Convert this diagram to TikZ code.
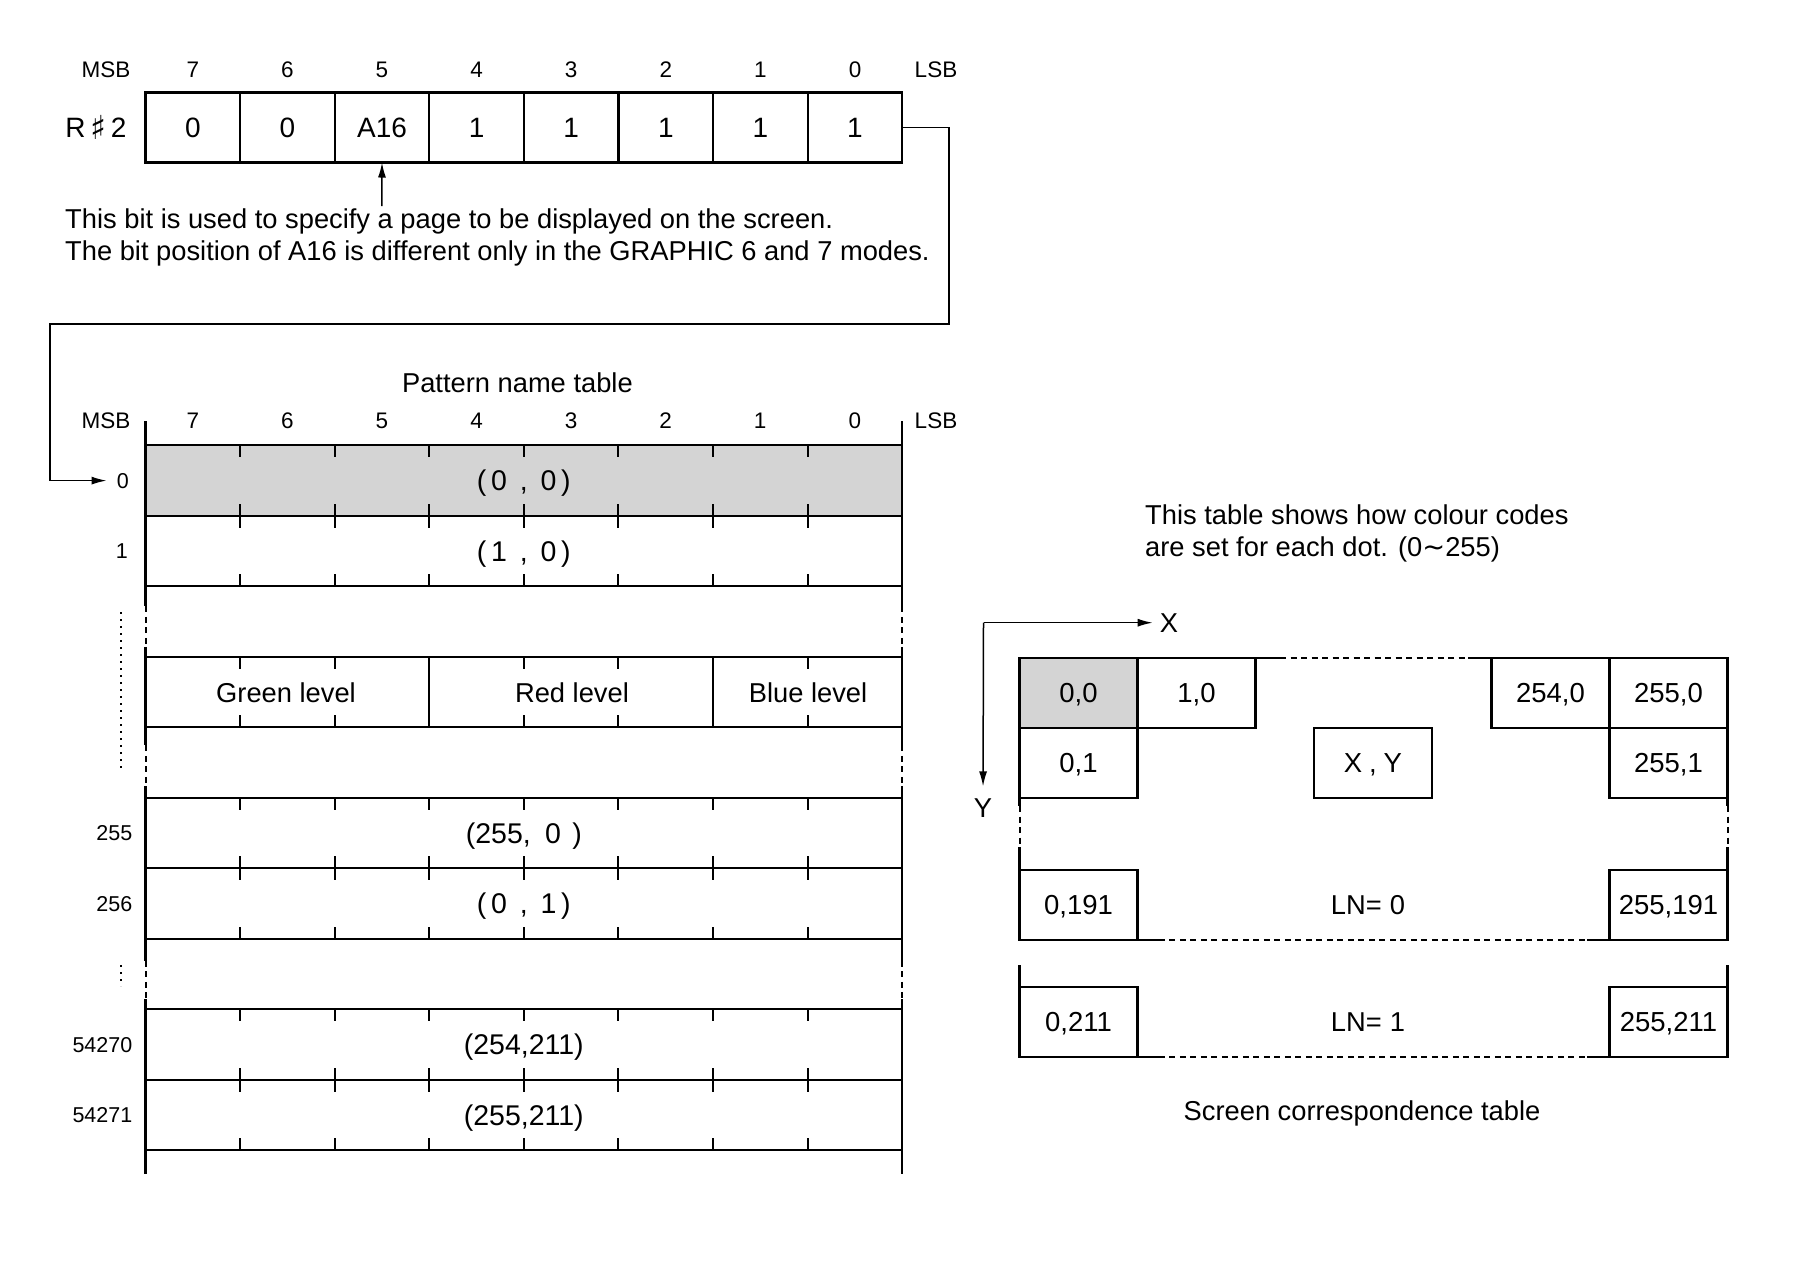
\documentclass[tikz,border=0pt]{standalone}
\usepackage{fontspec}
\setmainfont{Liberation Sans}
\newfontfamily\djv{DejaVu Sans}
\usetikzlibrary{arrows.meta}
\newcommand\gp{\hspace{0.45em}}
\tikzset{
  frame/.style={line width=2.2pt},
  tick/.style={line width=2pt},
  dashline/.style={line width=2pt, dash pattern=on 6pt off 4.5pt},
  conn/.style={line width=1.5pt},
  tip/.style={-{Latex[length=15pt,width=8pt]}},
  hdr/.style={inner sep=0pt, font=\fontsize{22.5}{26}\selectfont},
  big/.style={inner sep=0pt, font=\fontsize{28}{32}\selectfont},
  txt/.style={inner sep=0pt, font=\fontsize{27.3}{32}\selectfont},
  val/.style={inner sep=0pt, anchor=base, font=\fontsize{28.5}{32}\selectfont},
  rowlab/.style={inner sep=0pt, anchor=east, font=\fontsize{21.5}{24}\selectfont},
  regcell/.style={draw, frame, outer sep=0pt, minimum width=94.6pt, minimum height=70pt, inner sep=0pt, text depth=0pt, anchor=north west, font=\fontsize{28}{32}\selectfont},
  scell/.style={draw, frame, outer sep=0pt, minimum width=118pt, minimum height=70pt, inner sep=0pt, text depth=0pt, anchor=north west, font=\fontsize{27.5}{32}\selectfont},
  shade/.style={fill=black!17},
}
\begin{document}
\begin{tikzpicture}[x=1pt,y=-1pt]
\useasboundingbox (0,0) rectangle (1795,1275);

% ---------------- register R#2 ----------------
\foreach \t [count=\i from 0] in {0,0,A16,1,1,1,1,1}{
  \pgfmathtruncatemacro\bitno{7-\i}
  \node[regcell] (b\bitno) at ({145.5+\i*94.6},92.5) {\t};
  \node[hdr] (h\bitno) at ({145.5+(\i+0.5)*94.6},69.5) {\bitno};
}
\node[hdr] (msbA) at (106,69.5) {MSB};
\node[hdr] (lsbA) at (936,69.5) {LSB};
\node[big, anchor=base] (reg) at (96,137.3) {R\,\raisebox{-2.5pt}{\djv\fontsize{33}{33}\selectfont ♯}\,2};

\coordinate (notetop) at (381.9,206);
\draw[conn,tip] (notetop) -- (b5.south);
\node[txt, anchor=base west] (note1) at (65,228.3) {This bit is used to specify a page to be displayed on the screen.};
\node[txt, anchor=base west] (note2) at (65,260) {The bit position of A16 is different only in the GRAPHIC 6 and 7 modes.};

% ---------------- pattern name table ----------------
\def\L{145.5}
\def\R{902.1}
\def\cw{94.575}
\def\T{445.3}
\def\h{70.5}
\node[txt, anchor=base] (ptitle) at (517.4,392.5) {Pattern name table};
\node[hdr] (msbB) at (106,421) {MSB};
\node[hdr] (lsbB) at (936,421) {LSB};
\foreach \i in {0,...,7}{
  \pgfmathtruncatemacro\bitno{7-\i}
  \node[hdr] (p\bitno) at ({\L+(\i+0.5)*\cw},421) {\bitno};
}
\fill[shade] (\L,\T) rectangle (\R,{\T+\h});
\foreach \k in {0,...,10}{
  \draw[frame] (\L,{\T+\k*\h}) -- (\R,{\T+\k*\h});
}
% ticks for ordinary rows
\foreach \r in {0,1,5,6,8,9}{
  \foreach \k in {1,...,7}{
    \draw[tick] ({\L+\k*\cw},{\T+\r*\h}) -- ++(0,12);
    \draw[tick] ({\L+\k*\cw},{\T+(\r+1)*\h}) -- ++(0,-12);
  }
}
% colour row
\foreach \k in {1,2,4,5,7}{
  \draw[tick] ({\L+\k*\cw},{\T+3*\h}) -- ++(0,12);
  \draw[tick] ({\L+\k*\cw},{\T+4*\h}) -- ++(0,-12);
}
\foreach \k in {3,6}{
  \draw[frame] ({\L+\k*\cw},{\T+3*\h}) -- ({\L+\k*\cw},{\T+4*\h});
}
% side verticals
\foreach \x in {\L,\R}{
  \draw[frame] (\x,421) -- (\x,{\T+2*\h+20});
  \draw[dashline] (\x,{\T+2*\h+20}) -- (\x,{\T+3*\h-10});
  \draw[frame] (\x,{\T+3*\h-10}) -- (\x,{\T+4*\h+18});
  \draw[dashline] (\x,{\T+4*\h+18}) -- (\x,{\T+5*\h-12});
  \draw[frame] (\x,{\T+5*\h-12}) -- (\x,{\T+7*\h+22});
  \draw[dashline] (\x,{\T+7*\h+22}) -- (\x,{\T+8*\h-10});
  \draw[frame] (\x,{\T+8*\h-10}) -- (\x,1174);
}
% row contents
\node[val] (v0) at (523.8,490.8) {(\,0\gp,\gp0\,)};
\node[val] (v1) at (523.8,561.3) {(\,1\gp,\gp0\,)};
\node[txt] (green) at (286,693) {Green level};
\node[txt] (red) at (572,693) {Red level};
\node[txt] (blue) at (808,693) {Blue level};
\node[val] (v255) at (523.8,843.3) {(255,\hspace{0.5em}0\hspace{0.4em})};
\node[val] (v256) at (523.8,913.8) {(\,0\gp,\gp1\,)};
\node[val] (v54270) at (523.8,1054.8) {(254,211)};
\node[val] (v54271) at (523.8,1125.3) {(255,211)};
% row labels
\node[rowlab] (l0) at (129,480.6) {0};
\node[rowlab] (l1) at (128,551.1) {1};
\node[rowlab] (l255) at (132.5,833.1) {255};
\node[rowlab] (l256) at (132.5,903.6) {256};
\node[rowlab] (l54270) at (132.5,1044.6) {54270};
\node[rowlab] (l54271) at (132.5,1115.1) {54271};
\draw[line width=2pt, dash pattern=on 2pt off 5pt] (121,612) -- (121,772);
\draw[line width=2pt, dash pattern=on 2pt off 5pt] (121,965) -- (121,986);

% connector from register to table
\draw[conn,tip] (b0.east) -- (949,127.5) -- (949,324) -- (50,324) |- ([xshift=-10pt]l0.west);

% ---------------- screen correspondence table ----------------
\node[txt, anchor=base west] (rt1) at (1145,524.5) {This table shows how colour codes};
\node[txt, anchor=base west] (rt2) at (1145,556) {are set for each dot. (0{\djv ∼}255)};

\coordinate (orig) at (983.5,622.7);
\node[txt] (xlab) at (1169,622.7) {X};
\node[txt] (ylab) at (983,808) {Y};
\draw[conn,tip,shorten >=7pt] (orig) -- (xlab.west);
\draw[conn,tip,shorten >=12pt] (orig) -- (ylab.north);

\node[scell, shade] (s00) at (1019.5,657.7) {0,0};
\node[scell] (s10) at (1137.5,657.7) {1,0};
\node[scell] (s2540) at (1491.5,657.7) {254,0};
\node[scell] (s2550) at (1609.5,657.7) {255,0};
\node[scell] (s01) at (1019.5,727.7) {0,1};
\node[scell] (sxy) at (1314,727.7) {X\hspace{0.25em},\hspace{0.25em}Y};
\node[scell] (s2551) at (1609.5,727.7) {255,1};
\draw[frame] (s10.north east) -- ++(24,0);
\draw[dashline] (1280,657.7) -- (1468,657.7);
\draw[frame] (1468,657.7) -- (s2540.north west);

\foreach \x in {1019.5,1727.5}{
  \draw[frame] (\x,797.7) -- (\x,806);
  \draw[dashline] (\x,806) -- (\x,847);
  \draw[frame] (\x,847) -- (\x,870);
  \draw[frame] (\x,965) -- (\x,987);
}
\node[scell] (s0191) at (1019.5,870) {0,191};
\node[scell] (s255191) at (1609.5,870) {255,191};
\draw[frame] (s0191.south east) -- ++(21,0);
\draw[dashline] (1158.8,940) -- (1587.4,940);
\draw[frame] (1587.4,940) -- (s255191.south west);
\node[txt] (ln0) at (1368,905.5) {LN=\hspace{0.3em}0};

\node[scell] (s0211) at (1019.5,987) {0,211};
\node[scell] (s255211) at (1609.5,987) {255,211};
\draw[frame] (s0211.south east) -- ++(21,0);
\draw[dashline] (1158.8,1057) -- (1587.4,1057);
\draw[frame] (1587.4,1057) -- (s255211.south west);
\node[txt] (ln1) at (1368,1022.5) {LN=\hspace{0.3em}1};

\node[txt, anchor=base] (stitle) at (1362,1120.5) {Screen correspondence table};
\end{tikzpicture}
\end{document}
